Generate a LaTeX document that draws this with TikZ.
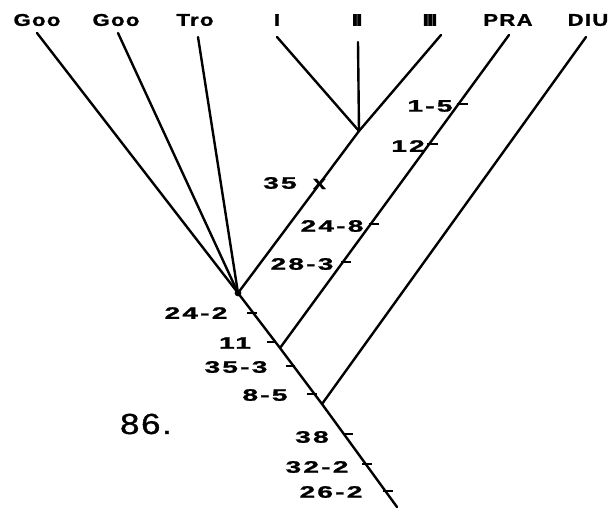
\documentclass[tikz,border=0pt]{standalone}
\usepackage{fontspec}
\usepackage{graphicx}
\newfontfamily\labfont{Liberation Sans Bold}[LetterSpace=8,FakeBold=1.2]
\newfontfamily\topfont{Liberation Sans Bold}[LetterSpace=6,FakeBold=1.2]
\newfontfamily\romfont{Liberation Sans Bold}[LetterSpace=-10,FakeBold=1.2]
\newfontfamily\bigfont{Liberation Sans}[LetterSpace=5,FakeBold=1]
\newcommand\widetxt[2]{\scalebox{#1}[1]{#2}}
\usetikzlibrary{calc}
\begin{document}
\begin{tikzpicture}[x=1pt,y=-1pt,
  branch/.style={line width=2.4pt,line cap=round},
  tickmark/.style={line width=2.2pt},
  lab/.style={inner sep=0pt,font=\labfont\fontsize{16.5}{17}\selectfont},
  toplab/.style={inner sep=0pt,font=\topfont\fontsize{17}{18}\selectfont},
  romlab/.style={inner sep=0pt,font=\romfont\fontsize{17}{18}\selectfont},
  biglab/.style={inner sep=0pt,font=\bigfont\fontsize{29}{30}\selectfont}]
\useasboundingbox (0,0) rectangle (612,507);
% tips
\coordinate (tGooA) at (37,33);
\coordinate (tGooB) at (118,33);
\coordinate (tTro) at (198,37);
\coordinate (tI) at (277,37);
\coordinate (tII) at (358,42);
\coordinate (tIII) at (441,35);
\coordinate (tPRA) at (509,35);
\coordinate (tDIU) at (586,37);
% internal nodes
\coordinate (jIII) at (359,131);
\coordinate (n1) at (238,293);
\coordinate (n2) at (280,348);
\coordinate (n3) at (322,404);
\coordinate (root) at (397,507);
% top labels
\node[toplab] (lGooA) at (37,20) {\widetxt{1.3}{Goo}};
\node[toplab] (lGooB) at (116,20) {\widetxt{1.3}{Goo}};
\node[toplab] (lTro) at (195,20) {\widetxt{1.3}{Tro}};
\node[romlab] (lI) at (277,20) {\widetxt{1.4}{I}};
\node[romlab] (lII) at (357,20) {\widetxt{1.4}{II}};
\node[romlab] (lIII) at (430,20) {\widetxt{1.4}{III}};
\node[toplab] (lPRA) at (508,20) {\widetxt{1.3}{PRA}};
\node[toplab] (lDIU) at (588,20) {\widetxt{1.3}{DIU}};
% branches
\draw[branch] (tGooA) -- (n1) -- (n2) -- (n3) -- (root);
\draw[branch] (tGooB) -- (n1);
\draw[branch] (tTro) -- (n1);
\draw[branch] (tI) -- (jIII);
\draw[branch] (tII) -- (jIII);
\draw[branch] (tIII) -- (jIII) -- (n1);
\draw[branch] (tPRA) -- (n2);
\draw[branch] (tDIU) -- (n3);
\fill (n1) circle (3.4);
% tick positions on PRA branch
\coordinate (kA) at ($(tPRA)!0.2204!(n2)$);
\coordinate (kB) at ($(tPRA)!0.3482!(n2)$);
\coordinate (kC) at ($(tPRA)!0.6038!(n2)$);
\coordinate (kD) at ($(tPRA)!0.7252!(n2)$);
% tick positions on trunk
\coordinate (kE) at ($(n1)!0.3636!(n2)$);
\coordinate (kF) at ($(n1)!0.8909!(n2)$);
\coordinate (kG) at ($(n2)!0.3214!(n3)$);
\coordinate (kH) at ($(n2)!0.8214!(n3)$);
\coordinate (kI) at ($(n3)!0.2913!(root)$);
\coordinate (kJ) at ($(n3)!0.5825!(root)$);
\coordinate (kK) at ($(n3)!0.8447!(root)$);
% x mark on III branch
\coordinate (kX) at ($(jIII)!0.327!(n1)$);
% ticks
\draw[tickmark] (kA) ++(-2,0) -- ++(11,0);
\draw[tickmark] (kB) ++(-2,0) -- ++(11,0);
\draw[tickmark] (kC) ++(-2,0) -- ++(10,0);
\draw[tickmark] (kD) ++(-2,0) -- ++(10,0);
\draw[tickmark] (kE) ++(-6,0) -- ++(10,0);
\draw[tickmark] (kF) ++(-8,0) -- ++(9,0);
\draw[tickmark] (kG) ++(-8,0) -- ++(9,0);
\draw[tickmark] (kH) ++(-8,0) -- ++(10,0);
\draw[tickmark] (kI) ++(0,0) -- ++(9,0);
\draw[tickmark] (kJ) ++(-4,0) -- ++(10,0);
\draw[tickmark] (kK) ++(-2,0) -- ++(10,0);
% labels
\node[lab] (c15) at (430,106) {\widetxt{1.7}{1-5}};
\node[lab] (c12) at (408,146) {\widetxt{1.7}{12}};
\node[lab] (c35) at (280,183) {\widetxt{1.7}{35}};
\node[lab,font=\labfont\fontsize{19}{20}\selectfont] (cx) at (kX) {\widetxt{1.2}{x}};
\node[lab] (c248) at (332,226) {\widetxt{1.7}{24-8}};
\node[lab] (c283) at (302,264) {\widetxt{1.7}{28-3}};
\node[lab] (c242) at (196,313) {\widetxt{1.7}{24-2}};
\node[lab] (c11) at (235,343) {\widetxt{1.7}{11}};
\node[lab] (c353) at (236,367) {\widetxt{1.7}{35-3}};
\node[lab] (c85) at (265,395) {\widetxt{1.7}{8-5}};
\node[biglab] (c86) at (146,424) {\widetxt{1.2}{86.}};
\node[lab] (c38) at (312,437) {\widetxt{1.7}{38}};
\node[lab] (c322) at (317,467) {\widetxt{1.7}{32-2}};
\node[lab] (c262) at (331,492) {\widetxt{1.7}{26-2}};
\end{tikzpicture}
\end{document}
